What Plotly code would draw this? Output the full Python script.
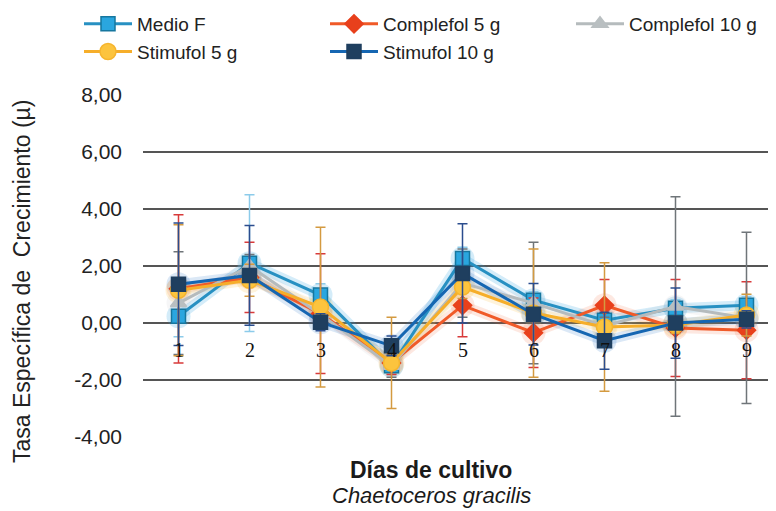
import plotly.graph_objects as go

days = [1, 2, 3, 4, 5, 6, 7, 8, 9]
day_labels = ["1", "2", "3", "4", "5", "6", "7", "8", "9"]

medio_f = [0.24, 2.10, 0.98, -1.50, 2.26, 0.80, 0.10, 0.52, 0.62]
medio_f_err = [0.72, 2.40, 0.40, 0.30, 0.40, 0.30, 0.20, 0.30, 0.30]

complefol5 = [1.20, 1.60, 0.33, -1.40, 0.62, -0.34, 0.62, -0.17, -0.25]
complefol5_err = [2.60, 1.23, 2.10, 0.40, 1.10, 1.22, 0.91, 1.70, 1.70]

complefol10 = [0.70, 2.00, 0.30, -1.50, 1.40, 0.70, -0.10, 0.58, 0.18]
complefol10_err = [1.80, 0.40, 0.50, 0.40, 1.20, 2.13, 0.30, 3.85, 3.00]

stimufol5 = [1.15, 1.50, 0.56, -1.40, 1.26, 0.35, -0.14, -0.07, 0.28]
stimufol5_err = [2.30, 0.56, 2.80, 1.60, 0.40, 2.25, 2.25, 0.30, 0.73]

stimufol10 = [1.36, 1.67, 0.03, -0.80, 1.74, 0.31, -0.62, 0.00, 0.13]
stimufol10_err = [2.15, 1.75, 0.30, 0.35, 1.74, 1.08, 1.00, 1.23, 0.30]

y_tickvals = [-4, -2, 0, 2, 4, 6, 8]
y_ticktext = ["-4,00", "-2,00", "0,00", "2,00", "4,00", "6,00", "8,00"]

series = [
    dict(name="Medio F", y=medio_f, err=medio_f_err, line="#2790c2",
         mfill="#2aa6df", mline="#16779f", symbol="square", size=14,
         ecolor="#8ccbea", glow="rgba(40,160,225,0.2)"),
    dict(name="Complefol 5 g", y=complefol5, err=complefol5_err, line="#f05a28",
         mfill="#e8401c", mline="#e8401c", symbol="diamond", size=14,
         ecolor="#d83a3a", glow="rgba(240,90,40,0.14)"),
    dict(name="Complefol 10 g", y=complefol10, err=complefol10_err, line="#b5bbbd",
         mfill="#b9bfc1", mline="#b9bfc1", symbol="triangle-up", size=14,
         ecolor="#6f7579", glow="rgba(180,185,190,0.12)"),
    dict(name="Stimufol 5 g", y=stimufol5, err=stimufol5_err, line="#f6ae2a",
         mfill="#fcc43e", mline="#f6b52e", symbol="circle", size=16,
         ecolor="#d49a40", glow="rgba(250,180,40,0.16)"),
    dict(name="Stimufol 10 g", y=stimufol10, err=stimufol10_err, line="#1566b2",
         mfill="#1f3f5f", mline="#1f3f5f", symbol="square", size=14,
         ecolor="#2b4d8e", glow="rgba(30,110,200,0.16)"),
]

fig = go.Figure()

# soft glow under the lines
for s in series:
    fig.add_trace(go.Scatter(
        x=days, y=s["y"], mode="lines+markers", showlegend=False, hoverinfo="skip",
        line=dict(color=s["glow"], width=10),
        marker=dict(color=s["glow"], size=s["size"] + 10, symbol="circle"),
    ))

for s in series:
    fig.add_trace(go.Scatter(
        x=days, y=s["y"], name=s["name"], mode="lines+markers",
        line=dict(color=s["line"], width=3),
        marker=dict(color=s["mfill"], size=s["size"], symbol=s["symbol"],
                    line=dict(color=s["mline"], width=1.5)),
        error_y=dict(type="data", array=s["err"], visible=True,
                     color=s["ecolor"], thickness=1.5, width=5),
    ))

for d, lab in zip(days, day_labels):
    fig.add_annotation(x=d, y=-0.95, xref="x", yref="y", text=lab, showarrow=False,
                       font=dict(family="Liberation Serif", size=20, color="#111111"))

fig.add_annotation(x=(431 - 143) / 633, y=-32 / 344, xref="paper", yref="paper",
                   text="<b>Días de cultivo</b>", showarrow=False, yanchor="middle",
                   font=dict(family="Liberation Sans", size=23, color="#1a1a1a"))
fig.add_annotation(x=(431 - 143) / 633, y=-57 / 344, xref="paper", yref="paper",
                   text="<i>Chaetoceros gracilis</i>", showarrow=False, yanchor="middle",
                   font=dict(family="Liberation Sans", size=22, color="#1a1a1a"))

# y-axis title (placed like the original: slightly below the axis centre)
fig.add_annotation(x=(14 - 135) / 633, y=0.5 - 15 / 344, xref="paper", yref="paper",
                   text="Tasa Específica de\u00a0 Crecimiento (µ)", showarrow=False,
                   textangle=-90, xanchor="center", yanchor="middle",
                   font=dict(family="Liberation Sans", size=23, color="#222222"))

fig.update_layout(
    width=768, height=503,
    margin=dict(l=135, r=0, t=86, b=73, autoexpand=False),
    paper_bgcolor="white", plot_bgcolor="white",
    font=dict(family="Liberation Sans", color="#222222"),
    showlegend=True,
    legend=dict(orientation="h", x=(71 - 135) / 633, xanchor="left",
                y=1 + (86 + 3) / 344, yanchor="top",
                entrywidth=183, entrywidthmode="pixels", itemwidth=48,
                font=dict(family="Liberation Sans", size=19, color="#222222"),
                bgcolor="rgba(0,0,0,0)"),
    xaxis=dict(range=[0.5, 0.5 + 633 / 71], showgrid=False, zeroline=False,
               showticklabels=False, showline=False, ticks=""),
    yaxis=dict(range=[-4.03, 8.03], tickvals=y_tickvals, ticktext=y_ticktext,
               showgrid=True, gridcolor="#555555", gridwidth=2,
               zeroline=False, showline=False, ticks="",
               tickfont=dict(family="Liberation Sans", size=21, color="#222222"),
               ticklabelstandoff=20),
)

fig.write_html("out.html")
